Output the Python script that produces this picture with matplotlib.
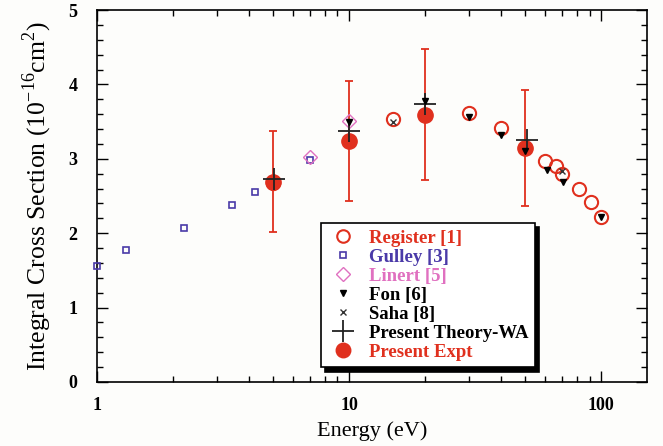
import matplotlib
matplotlib.use("Agg")
import matplotlib.pyplot as plt
from matplotlib.ticker import FixedLocator, LogLocator, NullFormatter, MultipleLocator

plt.rcParams['font.family'] = ['Liberation Serif', 'DejaVu Serif']
plt.rcParams['mathtext.fontset'] = 'custom'
plt.rcParams['mathtext.rm'] = 'Liberation Serif'
plt.rcParams['mathtext.bf'] = 'Liberation Serif:bold'

# Data
reg_x = [5, 15, 30, 40, 60, 66, 70, 82, 91, 100]
reg_y = [2.68, 3.54, 3.61, 3.42, 2.97, 2.91, 2.80, 2.59, 2.42, 2.22]

gul_x = [1.0, 1.31, 2.22, 3.43, 4.22, 7.0]
gul_y = [1.56, 1.77, 2.07, 2.38, 2.55, 2.98]

lin_x = [7.0, 10.0]
lin_y = [3.03, 3.51]

fon_x = [10, 20, 30, 40, 50, 61, 70.5, 100]
fon_y = [3.50, 3.78, 3.56, 3.32, 3.10, 2.85, 2.69, 2.22]

saha_x = [15, 70]
saha_y = [3.49, 2.83]

thy_x = [5.05, 10, 20, 50.7]
thy_y = [2.73, 3.37, 3.74, 3.25]

exp_x = [5, 10, 20, 50]
exp_y = [2.69, 3.24, 3.59, 3.14]
exp_err = [0.68, 0.81, 0.88, 0.78]

red = '#e0301e'
fig = plt.figure(figsize=(6.63, 4.46), dpi=100, facecolor='#fdfdfb')
ax = fig.add_axes([0.146, 0.1435, 0.830, 0.834])
ax.set_facecolor('#fdfdfb')

ax.errorbar(exp_x, exp_y, yerr=exp_err, fmt='none', ecolor=red, elinewidth=1.3,
            capsize=3, capthick=1.3, zorder=2)
ax.plot(reg_x, reg_y, 'o', mfc='none', mec=red, mew=1.5, ms=9.5, ls='none',
        label='Register [1]', zorder=3)
ax.plot(gul_x, gul_y, 's', mfc='none', mec='#4a3aa8', mew=1.2, ms=5, ls='none',
        label='Gulley [3]', zorder=3, clip_on=False)
ax.plot(lin_x, lin_y, 'D', mfc='none', mec='#e070c0', mew=1.0, ms=7, ls='none',
        label='Linert [5]', zorder=3)
ax.plot(fon_x, fon_y, 'v', color='black', ms=5, ls='none', label='Fon [6]', zorder=5)
ax.plot(saha_x, saha_y, 'x', color='#333333', ms=5, mew=1.0, ls='none',
        label='Saha [8]', zorder=5)
ax.plot(thy_x, thy_y, '+', color='#222222', ms=16, mew=1.3, ls='none',
        label='Present Theory-WA', zorder=4)
ax.plot(exp_x, exp_y, 'o', color=red, ms=11, ls='none', label='Present Expt', zorder=3.5)

ax.set_xscale('log')
ax.set_xlim(1, 152)
ax.set_ylim(0, 5)
ax.xaxis.set_major_locator(FixedLocator([1, 10, 100]))
ax.xaxis.set_minor_locator(LogLocator(base=10, subs=range(2, 10)))
ax.xaxis.set_minor_formatter(NullFormatter())
ax.set_xticklabels(['1', '10', '100'])
ax.yaxis.set_major_locator(MultipleLocator(1))
ax.yaxis.set_minor_locator(MultipleLocator(0.2))
ax.tick_params(which='both', direction='in', top=True, right=True, width=1.0)
ax.tick_params(which='major', length=8, labelsize=13)
ax.tick_params(axis='x', which='major', pad=11)
ax.tick_params(axis='y', which='major', pad=14)
ax.tick_params(which='minor', length=4)
for lbl in ax.get_xticklabels() + ax.get_yticklabels():
    lbl.set_fontweight('bold')
for s in ax.spines.values():
    s.set_linewidth(1.2)

ax.set_xlabel('Energy (eV)', fontsize=16, labelpad=5)
ax.set_ylabel(r'Integral Cross Section (10$^{-16}$cm$^{2}$)',
              fontsize=18.5, labelpad=10)

leg = ax.legend(loc='upper left', bbox_to_anchor=(0.407, 0.427),
                fontsize=13.5, frameon=True, fancybox=False,
                shadow={'color': 'black', 'alpha': 1, 'ox': 3, 'oy': -3},
                edgecolor='black',
                borderpad=0.35, labelspacing=0.1, handletextpad=0.5, handlelength=1.7,
                borderaxespad=0, markerscale=0.95)
leg.get_frame().set_linewidth(1.2)
leg.get_frame().set_facecolor('white')
colors = [red, '#4a3aa8', '#e070c0', 'black', 'black', 'black', red]
for t, c in zip(leg.get_texts(), colors):
    t.set_color(c)
    t.set_fontweight('bold')

fig.savefig('out.png', dpi=100, facecolor=fig.get_facecolor())
